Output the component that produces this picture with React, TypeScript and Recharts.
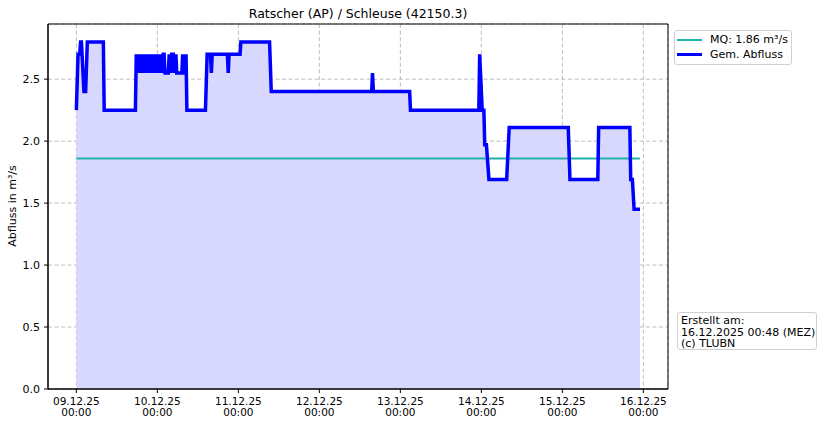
import React from "react"
import {
  ComposedChart,
  Area,
  Line,
  XAxis,
  YAxis,
  CartesianGrid,
  ReferenceLine,
  ReferenceArea,
} from "recharts"

// hours since 09.12.25 00:00
const hours = [
  0, 0.5, 1.0, 1.25, 1.5, 2.25, 2.75, 3.25, 8.0, 8.25,
  17.5, 17.75, 18.0, 18.25, 18.5, 18.75, 19.0, 19.25, 19.5, 19.75,
  20.0, 20.25, 20.5, 20.75, 21.0, 21.25, 21.5, 21.75, 22.0, 22.25,
  22.5, 22.75, 23.0, 23.25, 23.5, 23.75, 24.0, 24.25, 24.5, 24.75,
  25.0, 25.25, 25.5, 25.75, 26.0, 26.25,
  27.25, 27.5, 28.0, 28.25, 28.75, 29.0, 29.5, 29.75, 31.25, 31.5,
  31.75, 32.25, 32.5, 32.75, 38.25, 38.75, 39.75, 40.0, 40.25, 44.75,
  45.0, 45.25, 48.5, 48.75, 57.25, 57.75, 87.5, 87.75, 88.0, 98.75,
  99.0, 119.25, 119.5, 120.25, 120.75, 121.0, 121.5, 122.25, 127.5, 128.25,
  145.75, 146.25, 154.5, 154.75, 164.0, 164.25, 164.75, 165.25, 167.0,
]

const flow = [
  2.25, 2.7, 2.7, 2.8, 2.8, 2.4, 2.4, 2.8, 2.8, 2.25,
  2.25, 2.7, 2.55, 2.7, 2.55, 2.7, 2.55, 2.7, 2.55, 2.7,
  2.55, 2.7, 2.55, 2.7, 2.55, 2.7, 2.55, 2.7, 2.55, 2.7,
  2.55, 2.7, 2.55, 2.7, 2.55, 2.7, 2.55, 2.7, 2.55, 2.7,
  2.55, 2.7, 2.55, 2.7, 2.7, 2.55,
  2.55, 2.7, 2.55, 2.7, 2.7, 2.55, 2.7, 2.55, 2.55, 2.7,
  2.55, 2.55, 2.7, 2.25, 2.25, 2.7, 2.7, 2.55, 2.7, 2.7,
  2.55, 2.7, 2.7, 2.8, 2.8, 2.4, 2.4, 2.55, 2.4, 2.4,
  2.25, 2.25, 2.7, 2.25, 2.25, 1.97, 1.97, 1.69, 1.69, 2.11,
  2.11, 1.69, 1.69, 2.11, 2.11, 1.69, 1.69, 1.45, 1.45,
]

const MQ = 1.86
const dayTicks = [0, 24, 48, 72, 96, 120, 144, 168]
const dayLabels = ["09.12.25", "10.12.25", "11.12.25", "12.12.25", "13.12.25", "14.12.25", "15.12.25", "16.12.25"]
const yTicks = [0, 0.5, 1.0, 1.5, 2.0, 2.5]

const X_MIN = -8.4
const X_MAX = 175.3
const Y_MAX = 2.945

const FONT = "DejaVu Sans, sans-serif"

const data = hours.map((t, i) => ({ t, q: flow[i] }))

const DayTick = ({ x, y, payload }: any) => {
  const idx = dayTicks.indexOf(payload.value)
  return (
    <g transform={`translate(${x},${y})`}>
      <text textAnchor="middle" fontSize={10.5} fontFamily={FONT} fill="#000">
        <tspan x={0} dy={10}>{dayLabels[idx]}</tspan>
        <tspan x={0} dy={11}>00:00</tspan>
      </text>
    </g>
  )
}

export default function App() {
  return (
    <div style={{ position: "absolute", left: 0, top: 0, width: 823, height: 426, fontFamily: FONT, background: "#fff" }}>
      <div style={{ position: "absolute", left: 48, width: 620, top: 6, textAlign: "center", fontSize: 12.5 }}>
        Ratscher (AP) / Schleuse (42150.3)
      </div>
      <div
        style={{
          position: "absolute",
          left: 12,
          top: 206,
          fontSize: 11,
          whiteSpace: "nowrap",
          transform: "translate(-50%, -50%) rotate(-90deg)",
        }}
      >
        Abfluss in m³/s
      </div>

      <ComposedChart width={823} height={426} data={data} margin={{ top: 24, right: 155, bottom: 0, left: 0 }}>
        <CartesianGrid stroke="#bdbdbd" strokeDasharray="4 2.5" />
        <XAxis
          type="number"
          dataKey="t"
          domain={[X_MIN, X_MAX]}
          ticks={dayTicks}
          tick={<DayTick />}
          tickSize={4}
          tickMargin={2}
          height={37}
          allowDataOverflow
          stroke="#000"
          tickLine={{ stroke: "#000" }}
        />
        <YAxis
          type="number"
          domain={[0, Y_MAX]}
          ticks={yTicks}
          tickFormatter={(v) => v.toFixed(1)}
          width={48}
          tickSize={4}
          tickMargin={4}
          allowDataOverflow
          stroke="#000"
          tick={{ fontSize: 11, fontFamily: FONT, fill: "#000" }}
        />
        <Area
          type="linear"
          dataKey="q"
          stroke="none"
          fill="#d8d8ff"
          fillOpacity={1}
          baseValue={0}
          isAnimationActive={false}
        />
        <ReferenceLine
          segment={[{ x: 0, y: MQ }, { x: hours[hours.length - 1], y: MQ }]}
          stroke="#20b2aa"
          strokeWidth={2}
        />
        <Line
          type="linear"
          dataKey="q"
          stroke="#0000ff"
          strokeWidth={3.5}
          dot={false}
          activeDot={false}
          isAnimationActive={false}
        />
        <ReferenceArea x1={X_MIN} x2={X_MAX} y1={0} y2={Y_MAX} fill="none" stroke="#000" strokeWidth={1} />
      </ComposedChart>

      <div
        style={{
          position: "absolute",
          left: 674,
          top: 30,
          width: 116,
          height: 33,
          border: "1px solid #d0d0d0",
          borderRadius: 3,
          background: "#fff",
          fontSize: 11,
        }}
      >
        <div style={{ position: "absolute", left: 2, top: 8, width: 25, height: 2, background: "#20b2aa" }} />
        <div style={{ position: "absolute", left: 35, top: 1, lineHeight: "15px" }}>MQ: 1.86 m³/s</div>
        <div style={{ position: "absolute", left: 2, top: 22, width: 25, height: 3, background: "#0000ff" }} />
        <div style={{ position: "absolute", left: 35, top: 16, lineHeight: "15px" }}>Gem. Abfluss</div>
      </div>

      <div
        style={{
          position: "absolute",
          left: 677,
          top: 312,
          width: 140,
          height: 38,
          border: "1px solid #d0d0d0",
          borderRadius: 3,
          background: "#fff",
          fontSize: 11,
          lineHeight: "11.5px",
          paddingTop: 2,
          boxSizing: "border-box",
        }}
      >
        <div style={{ paddingLeft: 3 }}>Erstellt am:</div>
        <div style={{ paddingLeft: 3 }}>16.12.2025 00:48 (MEZ)</div>
        <div style={{ paddingLeft: 3 }}>(c) TLUBN</div>
      </div>
    </div>
  )
}
